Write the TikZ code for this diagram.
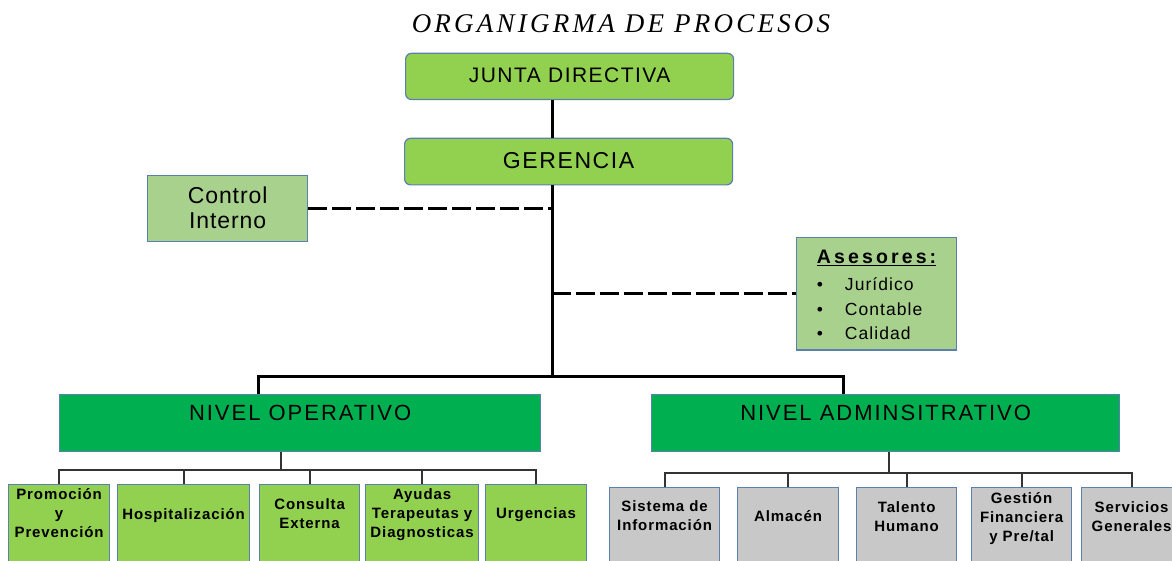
\documentclass[tikz,border=0pt]{standalone}
\usepackage{fontspec}
\setmainfont{Liberation Sans}
\newfontfamily\titlefont{Liberation Serif}

\definecolor{verdeclaro}{HTML}{92D050}
\definecolor{verdepalido}{HTML}{A9D18E}
\definecolor{verdeoscuro}{HTML}{00B050}
\definecolor{gris}{HTML}{C8C8C8}
\definecolor{borde}{HTML}{5B7FAE}

\newcommand{\renglones}[1]{\begin{tabular}[t]{@{}c@{}}#1\end{tabular}}

\tikzset{
	titulo/.style={anchor=base, font=\titlefont\itshape\fontsize{27}{30}\selectfont\addfontfeatures{LetterSpace=12}},
	cabeza/.style={draw=borde, fill=verdeclaro, rounded corners=6pt, line width=1.2pt, anchor=north west, inner sep=0pt, minimum width=328pt},
	apoyo/.style={draw=borde, fill=verdepalido, line width=1.2pt, anchor=north west, inner sep=0pt, minimum width=160pt},
	nivel/.style={draw=borde, fill=verdeoscuro, line width=1.2pt, anchor=north west, inner sep=0pt, text height=26pt, text depth=30.7pt, font=\fontsize{22}{26}\selectfont\addfontfeatures{LetterSpace=9}},
	opbox/.style={draw=borde, fill=verdeclaro, line width=1.2pt, anchor=north west, inner sep=0pt, font=\fontsize{15}{19}\selectfont\bfseries\addfontfeatures{LetterSpace=6}},
	admbox/.style={opbox, fill=gris},
	linea/.style={line width=3pt},
	rayas/.style={line width=2.8pt, dash pattern=on 19pt off 5pt},
	sublinea/.style={line width=1.8pt, draw=black!80}
}

\begin{document}
\begin{tikzpicture}[x=1pt, y=-1pt]
	
	\useasboundingbox (0,0) rectangle (1172,561);
	\clip (0,0) rectangle (1172,561);
	
	\node[titulo] (tit) at (621,33) {ORGANIGRMA DE PROCESOS};
	
	\node[cabeza, text height=29pt, text depth=17.3pt, font=\fontsize{21}{25}\selectfont\addfontfeatures{LetterSpace=7}] (junta) at (405,52.7) {JUNTA DIRECTIVA};
	\node[cabeza, text height=30.3pt, text depth=16.3pt, font=\fontsize{23}{27}\selectfont\addfontfeatures{LetterSpace=7}] (ger) at (404,137.7) {GERENCIA};
	
	\node[apoyo, text height=28.3pt, text depth=37.7pt, font=\fontsize{23}{25}\selectfont\addfontfeatures{LetterSpace=4}] (ctrl) at (147,175) {\renglones{Control\\Interno}};
	\node[apoyo, text height=26.6pt, text depth=86pt, font=\fontsize{17.5}{24.5}\selectfont\addfontfeatures{LetterSpace=6}] (ase) at (796,236.7)
		{\begin{tabular}[t]{@{}l@{}}{\fontsize{19.5}{24.5}\selectfont\bfseries\addfontfeatures{LetterSpace=16}\underline{Asesores:}}\\[2.5pt]
		\makebox[28pt][l]{\textbullet}Jurídico\\
		\makebox[28pt][l]{\textbullet}Contable\\
		\makebox[28pt][l]{\textbullet}Calidad\end{tabular}};
	
	\node[nivel, minimum width=481pt] (no) at (59,394) {NIVEL OPERATIVO};
	\node[nivel, minimum width=468pt] (na) at (651,394) {NIVEL ADMINSITRATIVO};
	
	\node[opbox, minimum width=101pt, text height=15pt, text depth=67pt] (promo) at (8,484) {\renglones{Promoción\\y\\Prevención}};
	\node[opbox, minimum width=132pt, text height=35pt, text depth=47pt] (hosp) at (117,484) {Hospitalización};
	\node[opbox, minimum width=100pt, text height=25pt, text depth=57pt] (cons) at (259,484) {\renglones{Consulta\\Externa}};
	\node[opbox, minimum width=113pt, text height=15pt, text depth=67pt] (ayu) at (365,484) {\renglones{Ayudas\\Terapeutas y\\Diagnosticas}};
	\node[opbox, minimum width=101pt, text height=34pt, text depth=48pt] (urg) at (485,484) {Urgencias};
	
	\node[admbox, minimum width=110pt, text height=24pt, text depth=55pt] (sis) at (609,487) {\renglones{Sistema de\\Información}};
	\node[admbox, minimum width=101pt, text height=34pt, text depth=45pt] (alm) at (737,487) {Almacén};
	\node[admbox, minimum width=100pt, text height=25pt, text depth=54pt] (tal) at (856,487) {\renglones{Talento\\Humano}};
	\node[admbox, minimum width=100pt, text height=16pt, text depth=63pt] (ges) at (971,487) {\renglones{Gestión\\Financiera\\y Pre/tal}};
	\node[admbox, minimum width=100pt, text height=25pt, text depth=54pt] (ser) at (1081,487) {\renglones{Servicios\\Generales}};
	
	\coordinate (spine) at (552,376);
	\coordinate (busl) at (258,376);
	\coordinate (busr) at (843,376);
	\coordinate (opbus) at (281,470);
	\coordinate (adbus) at (889,473);
	
	\draw[linea] (junta.south -| spine) -- (ger.north -| spine);
	\draw[linea] (ger.south -| spine) -- (spine);
	\draw[linea] (no.north -| busl) -- (busl) -- (busr) -- (na.north -| busr);
	
	\draw[rayas] (ctrl.east) -- (ctrl.east -| spine);
	\draw[rayas] (spine |- ase.west) -- (ase.west);
	
	\draw[sublinea] (no.south -| opbus) -- (opbus);
	\draw[sublinea] (promo.north) |- (urg.north |- opbus) -- (urg.north);
	\draw[sublinea] (hosp.north) -- (hosp.north |- opbus);
	\draw[sublinea] (cons.north) -- (cons.north |- opbus);
	\draw[sublinea] (ayu.north) -- (ayu.north |- opbus);
	
	\draw[sublinea] (na.south -| adbus) -- (adbus);
	\draw[sublinea] (sis.north) |- (ser.north |- adbus) -- (ser.north);
	\draw[sublinea] (alm.north) -- (alm.north |- adbus);
	\draw[sublinea] (tal.north) -- (tal.north |- adbus);
	\draw[sublinea] (ges.north) -- (ges.north |- adbus);
	
\end{tikzpicture}
\end{document}
